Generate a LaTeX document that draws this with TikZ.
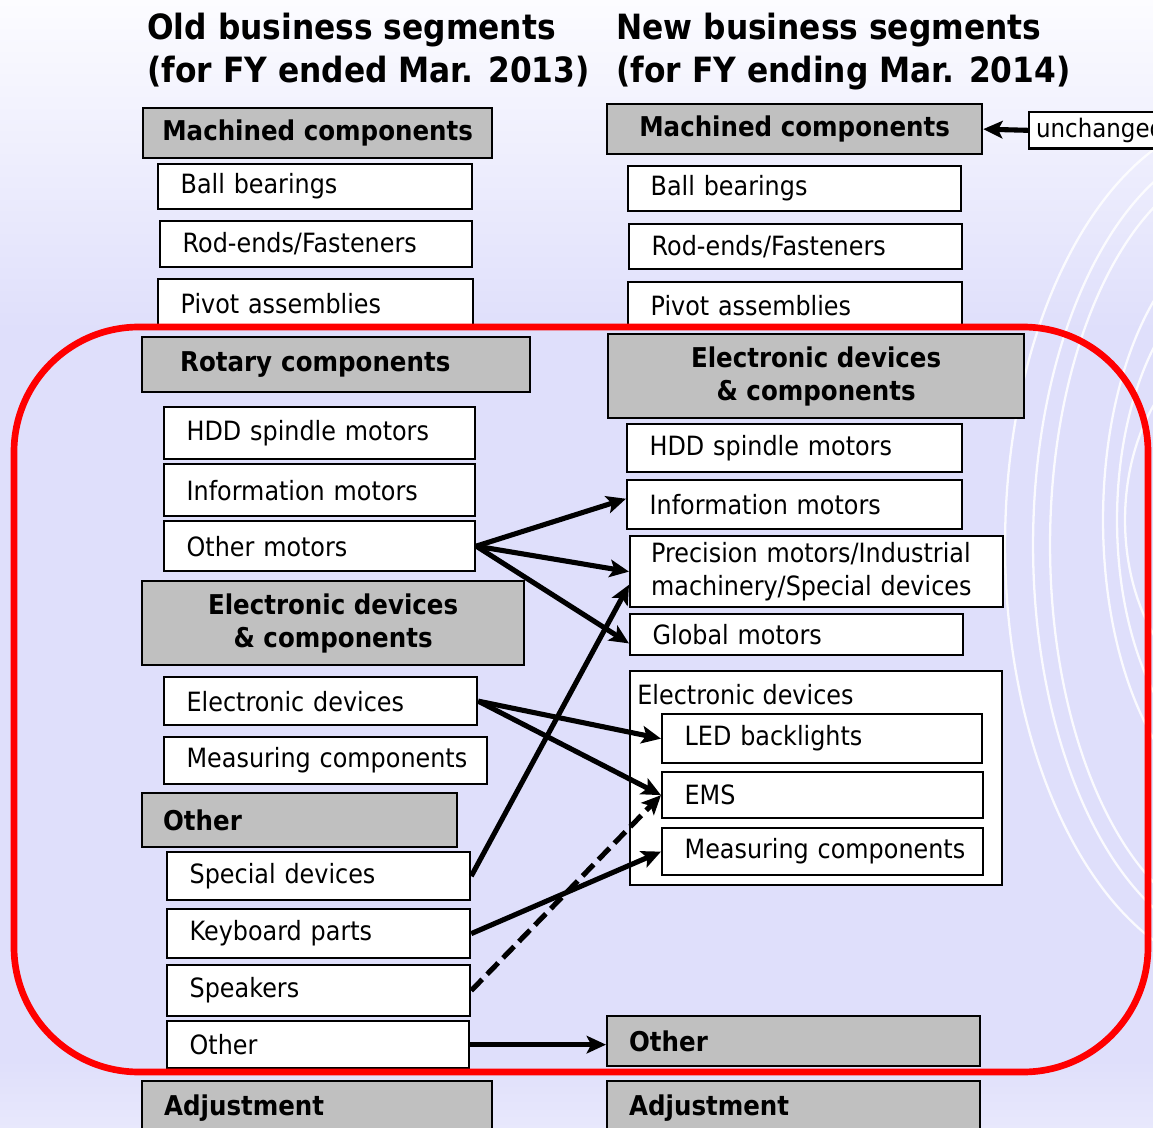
\documentclass[tikz,border=0pt]{standalone}
\usepackage{fontspec}
\setmainfont{DejaVu Sans}[FakeStretch=0.9]
\usetikzlibrary{positioning, arrows.meta}

\newcommand{\itemfont}{\fontsize{15.1pt}{18.8pt}\selectfont}
\newcommand{\headfont}{\fontsize{15.5pt}{18.8pt}\selectfont\bfseries}
\newcommand{\titlefont}{\fontsize{19.8pt}{24.5pt}\selectfont\bfseries}
\definecolor{headgray}{RGB}{192,192,192}
\definecolor{bgtop}{RGB}{252,252,255}
\definecolor{bgmid}{RGB}{223,223,251}
\definecolor{bglow}{RGB}{232,232,252}
\definecolor{framered}{RGB}{255,0,0}

\begin{document}
\begin{tikzpicture}
    [
        x=0.02cm, y=-0.02cm,
        title/.style={anchor=base west, inner sep=0pt, font=\titlefont},
        head/.style={draw=black, fill=headgray, line width=1.3pt, anchor=north west, inner ysep=0pt, align=center, font=\headfont},
        item/.style={draw=black, fill=white, line width=1.3pt, anchor=north west, inner ysep=0pt, inner xsep=0.45cm, align=left, font=\itemfont},
        link/.style={-{Stealth[length=11pt, width=10pt, inset=2.5pt]}, line width=2.9pt, color=black},
        arc_line/.style={white, line width=1.3pt, opacity=0.85},
    ]
        \useasboundingbox (0,0) rectangle (1153,1128);
        \shade[top color=bgtop, bottom color=bgmid] (0,0) rectangle (1153,330);
        \fill[bgmid] (0,330) rectangle (1153,1060);
        \shade[top color=bgmid, bottom color=bglow] (0,1060) rectangle (1153,1128);
        % rings on the right
        \begin{scope}
            \clip (0,0) rectangle (1153,1128);
            \foreach \rx/\ry in {4.9/8.6, 4.34/8.1, 4.0/7.7}
                \draw[arc_line] (1250,545) ellipse [x radius=\rx cm, y radius=\ry cm];
            \foreach \rx/\ry in {2.94/5.8, 2.66/5.0, 2.5/3.6}
                \draw[arc_line] (1250,520) ellipse [x radius=\rx cm, y radius=\ry cm];
        \end{scope}

        \node[title] (oldt) at (147,40) {Old business segments};
        \node[title] (oldt2) at (147,83) {(for FY ended Mar. 2013)};
        \node[title] (newt) at (616,40) {New business segments};
        \node[title] (newt2) at (616,83) {(for FY ending Mar. 2014)};

        % old segments
        \node[head, minimum width=6.98cm, minimum height=1.0cm] (lmach) at (142,107) {Machined components};
        \node[item, text width=5.38cm, minimum height=0.9cm] (lball) at (157,163) {Ball bearings};
        \node[item, text width=5.34cm, minimum height=0.92cm] (lrod) at (159,220) {Rod-ends/Fasteners};
        \node[item, text width=5.40cm, minimum height=0.98cm] (lpivot) at (157,278) {Pivot assemblies};
        \node[head, align=left, inner xsep=0.76cm, text width=6.24cm, minimum height=1.1cm] (lrot) at (141,336) {Rotary components};
        \node[item, text width=5.32cm, minimum height=1.04cm] (lhdd) at (163,406) {HDD spindle motors};
        \node[item, text width=5.32cm, minimum height=1.04cm] (linfo) at (163,463) {Information motors};
        \node[item, text width=5.32cm, minimum height=1.0cm] (lother) at (163,520) {Other motors};
        \node[head, minimum width=7.64cm, minimum height=1.68cm] (lelec) at (141,580) {Electronic devices\\\& components};
        \node[item, text width=5.36cm, minimum height=0.96cm] (ledev) at (163,676) {Electronic devices};
        \node[item, text width=5.56cm, minimum height=0.94cm] (lmeas) at (163,736) {\mbox{Measuring components}};
        \node[head, align=left, inner xsep=0.42cm, text width=5.46cm, minimum height=1.08cm] (lothg) at (141,792) {Other};
        \node[item, text width=5.16cm, minimum height=0.96cm] (lspec) at (166,851) {Special devices};
        \node[item, text width=5.16cm, minimum height=0.98cm] (lkey) at (166,908) {Keyboard parts};
        \node[item, text width=5.16cm, minimum height=1.02cm] (lspk) at (166,964) {Speakers};
        \node[item, text width=5.14cm, minimum height=0.94cm] (loth) at (166,1020) {Other};
        \node[head, align=left, inner xsep=0.44cm, text width=6.12cm, minimum height=1.08cm] (ladj) at (141,1080) {Adjustment};

        % new segments
        \node[head, minimum width=7.5cm, minimum height=1.0cm] (rmach) at (606,103) {Machined components};
        \node[draw=black, fill=white, line width=1.3pt, anchor=north west, inner xsep=0.14cm, minimum height=0.64cm, font=\fontsize{14.5pt}{16pt}\selectfont] (unch) at (1028,111) {unchanged};
        \node[item, text width=5.76cm, minimum height=0.9cm] (rball) at (627,165) {Ball bearings};
        \node[item, text width=5.76cm, minimum height=0.9cm] (rrod) at (628,223) {Rod-ends/Fasteners};
        \node[item, text width=5.78cm, minimum height=0.92cm] (rpivot) at (627,281) {Pivot assemblies};
        \node[head, minimum width=8.32cm, minimum height=1.68cm] (relec) at (607,333) {Electronic devices\\\& components};
        \node[item, text width=5.80cm, minimum height=0.96cm] (rhdd) at (626,423) {HDD spindle motors};
        \node[item, text width=5.80cm, minimum height=0.98cm] (rinfo) at (626,479) {Information motors};
        \node[item, inner xsep=0.42cm, text width=6.62cm, minimum height=1.42cm] (rprec) at (629,535) {\mbox{Precision motors/Industrial}\\\mbox{machinery/Special devices}};
        \node[item, text width=5.76cm, minimum height=0.82cm] (rglob) at (629,613) {Global motors};
        \node[draw=black, fill=white, line width=1.3pt, anchor=north west, minimum width=7.44cm, minimum height=4.28cm] (rcont) at (629,670) {};
        \node[anchor=west, inner sep=0pt, font=\itemfont] (rcontlbl) at (637,695) {Electronic devices};
        \node[item, text width=5.50cm, minimum height=0.98cm] (rled) at (661,713) {LED backlights};
        \node[item, text width=5.52cm, minimum height=0.92cm] (rems) at (661,771) {EMS};
        \node[item, text width=5.52cm, minimum height=0.94cm] (rmeas) at (661,827) {\mbox{Measuring components}};
        \node[head, align=left, inner xsep=0.44cm, text width=6.58cm, minimum height=1.0cm] (rothg) at (606,1015) {Other};
        \node[head, align=left, inner xsep=0.44cm, text width=6.58cm, minimum height=1.08cm] (radj) at (606,1080) {Adjustment};

        \draw[framered, line width=3.8pt, rounded corners=2.5cm] (14,327) rectangle (1148,1072);

        \draw[link] (unch.west) -- (rmach.east);
        \draw[link] (lother.east) -- (rinfo.178);
        \draw[link] (lother.east) -- (rprec.west);
        \draw[link] (lother.east) -- (rglob.183);
        \draw[link] (ledev.east) -- (rled.west);
        \draw[link] (ledev.east) -- (rems.west);
        \draw[link] (lspec.east) -- (rprec.184);
        \draw[link] (lkey.east) -- (rmeas.west);
        \draw[link, dash pattern=on 9pt off 4pt] (lspk.east) -- (rems.west);
        \draw[link] (loth.east) -- (loth.east -| rothg.west);
\end{tikzpicture}
\end{document}
